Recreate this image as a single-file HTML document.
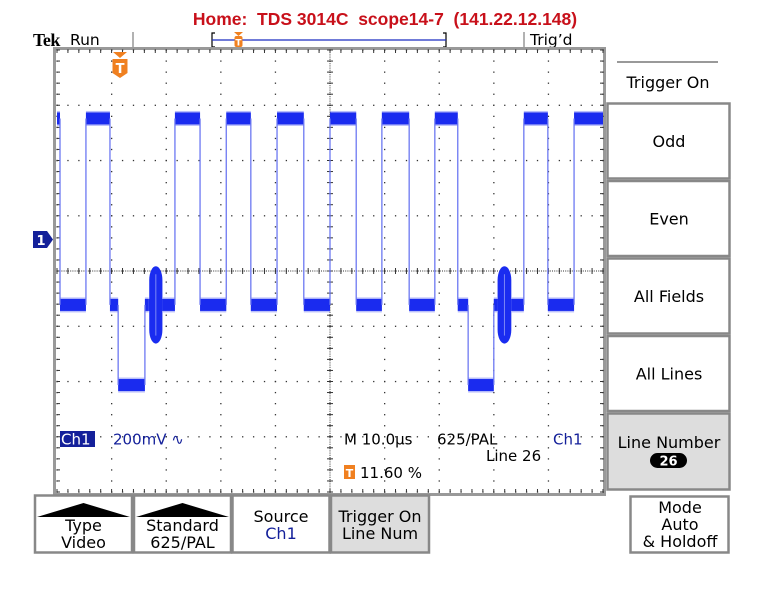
<!DOCTYPE html>
<html><head><meta charset="utf-8"><style>
html,body{margin:0;padding:0;background:#fff;width:760px;height:611px;overflow:hidden}
svg{display:block}
text{font-family:"DejaVu Sans","Liberation Sans",sans-serif;white-space:pre}
</style></head><body>
<svg id="scope" width="760" height="611" viewBox="0 0 760 611" xmlns="http://www.w3.org/2000/svg" xml:space="preserve">
<text x="385" y="25" text-anchor="middle" font-weight="bold" font-size="17.5" fill="#c8101a" style="font-family:'Liberation Sans',sans-serif">Home:  TDS 3014C  scope14-7  (141.22.12.148)</text>
<text x="33" y="46" font-size="18" font-weight="bold" style="font-family:'Liberation Serif',serif" letter-spacing="-0.5">Tek</text>
<text x="70" y="45" font-size="15.5">Run</text>
<line x1="133" y1="32" x2="133" y2="49" stroke="#999" stroke-width="1.5"/>
<g>
<path d="M215 33 H212 V47 H215" fill="none" stroke="#000" stroke-width="1.2"/>
<path d="M443 33 H446 V47 H443" fill="none" stroke="#000" stroke-width="1.2"/>
<line x1="212" y1="40" x2="446" y2="40" stroke="#1a2cc0" stroke-width="1.3"/>
<path d="M234 32 H243 L238.5 36 Z" fill="#f08020"/>
<rect x="234.5" y="36" width="8" height="11" rx="2" fill="#f08020"/>
<text x="238.5" y="45.5" text-anchor="middle" font-size="9" fill="#fff" font-weight="bold">T</text>
</g>
<line x1="524" y1="32" x2="524" y2="49" stroke="#999" stroke-width="1.5"/>
<text x="530" y="45" font-size="15.5">Trig’d</text>

<rect x="54.5" y="48.5" width="550" height="446" fill="#fff" stroke="#999" stroke-width="3"/>
<g id="grid"></g>
<g id="trace"></g>

<g>
<path d="M113 52 H127 L120 58 Z" fill="#f08020"/>
<path d="M112.5 59 H127.5 V73 L120 78 L112.5 73 Z" fill="#f08020"/>
<text x="120" y="73" text-anchor="middle" font-size="13" font-weight="bold" fill="#fff">T</text>
</g>
<g>
<path d="M33 231 H47 L53 239.5 L47 248 H33 Z" fill="#14209a"/>
<text x="41" y="245" text-anchor="middle" font-size="13" font-weight="bold" fill="#fff">1</text>
</g>

<rect x="60" y="431" width="35" height="16" fill="#14209a"/>
<text x="61" y="444.5" font-size="15" fill="#fff">Ch1</text>
<text x="113" y="444.5" font-size="15" fill="#14209a">200mV ∿</text>
<text x="344" y="444.5" font-size="15">M 10.0µs</text>
<text x="437" y="444.5" font-size="15">625/PAL</text>
<text x="553" y="444.5" font-size="15" fill="#14209a">Ch1</text>
<text x="486" y="461" font-size="15">Line 26</text>
<rect x="344" y="465" width="11" height="14" fill="#f08020"/>
<text x="349.5" y="477" text-anchor="middle" font-size="11" font-weight="bold" fill="#fff">T</text>
<text x="360" y="478" font-size="15">11.60 %</text>

<line x1="617" y1="62" x2="718" y2="62" stroke="#999" stroke-width="2"/>
<text x="668" y="88" text-anchor="middle" font-size="16">Trigger On</text>
<g><rect x="607.5" y="103.5" width="122" height="75" fill="#fff" stroke="#888" stroke-width="2.5"/><text x="669" y="147" text-anchor="middle" font-size="16">Odd</text></g>
<g><rect x="607.5" y="181" width="122" height="75" fill="#fff" stroke="#888" stroke-width="2.5"/><text x="669" y="224.5" text-anchor="middle" font-size="16">Even</text></g>
<g><rect x="607.5" y="258.5" width="122" height="75" fill="#fff" stroke="#888" stroke-width="2.5"/><text x="669" y="302" text-anchor="middle" font-size="16">All Fields</text></g>
<g><rect x="607.5" y="336" width="122" height="75" fill="#fff" stroke="#888" stroke-width="2.5"/><text x="669" y="379.5" text-anchor="middle" font-size="16">All Lines</text></g>
<g><rect x="607.5" y="413.5" width="122" height="76" fill="#ddd" stroke="#888" stroke-width="2.5"/><text x="669" y="448" text-anchor="middle" font-size="16">Line Number</text>
<rect x="650" y="453" width="37" height="15" rx="7.5" fill="#000"/><text x="668.5" y="465.5" text-anchor="middle" font-size="13" font-weight="bold" fill="#fff">26</text></g>

<g><rect x="35" y="495.5" width="97" height="57" fill="#fff" stroke="#888" stroke-width="2.5"/><path d="M37 517 L83.5 503 L130 517 Z" fill="#000"/><text x="83.5" y="531" text-anchor="middle" font-size="16">Type</text><text x="83.5" y="548" text-anchor="middle" font-size="16">Video</text></g>
<g><rect x="134" y="495.5" width="97" height="57" fill="#fff" stroke="#888" stroke-width="2.5"/><path d="M136 517 L182.5 503 L229 517 Z" fill="#000"/><text x="182.5" y="531" text-anchor="middle" font-size="16">Standard</text><text x="182.5" y="548" text-anchor="middle" font-size="16">625/PAL</text></g>
<g><rect x="232.5" y="495.5" width="97" height="57" fill="#fff" stroke="#888" stroke-width="2.5"/><text x="281" y="522" text-anchor="middle" font-size="16">Source</text><text x="281" y="539" text-anchor="middle" font-size="16" fill="#14209a">Ch1</text></g>
<g><rect x="331" y="495.5" width="98" height="57" fill="#ddd" stroke="#888" stroke-width="2.5"/><text x="380" y="522" text-anchor="middle" font-size="16">Trigger On</text><text x="380" y="539" text-anchor="middle" font-size="16">Line Num</text></g>
<g><rect x="630.5" y="496.5" width="98" height="56" fill="#fff" stroke="#888" stroke-width="2.5"/><text x="680" y="513" text-anchor="middle" font-size="16">Mode</text><text x="680" y="530" text-anchor="middle" font-size="16">Auto</text><text x="680" y="547" text-anchor="middle" font-size="16">&amp; Holdoff</text></g>
</svg>
<script>
// Trace data: segment boundaries (µs), levels (mV) and burst flags
const segStart = [0, 0.55, 5.3, 9.7, 11.2, 16.1, 16.8, 19.4, 21.6, 26.2, 31.0, 35.5, 40.3, 45.2, 50.0, 54.8, 59.5, 64.5, 69.2, 73.4, 75.3, 80.0, 80.6, 83.3, 85.5, 89.9, 94.7];
const segEnd   = [0.55, 5.3, 9.7, 11.2, 16.1, 16.8, 19.4, 21.6, 26.2, 31.0, 35.5, 40.3, 45.2, 50.0, 54.8, 59.5, 64.5, 69.2, 73.4, 75.3, 80.0, 80.6, 83.3, 85.5, 89.9, 94.7, 100];
const segLevel = [440, -235, 440, -235, -525, -235, -235, -235, 440, -235, 440, -235, 440, -235, 440, -235, 440, -235, 440, -235, -525, -235, -235, -235, 440, -235, 440];
const segBurst = [0, 0, 0, 0, 0, 0, 1, 0, 0, 0, 0, 0, 0, 0, 0, 0, 0, 0, 0, 0, 0, 0, 1, 0, 0, 0, 0];
const burstAmp = 140; // mV peak
const timeDivs = 10, voltDivs = 8;

const NS = 'http://www.w3.org/2000/svg';
const X0 = 57, X1 = 603, Y0 = 50, Y1 = 492;
const groundY = 240, mvPerDiv = 200, pxPerDiv = (Y1 - Y0) / voltDivs;
const xOf = t => X0 + (t / 100) * (X1 - X0);
const yOf = mv => groundY - mv / mvPerDiv * pxPerDiv;
function mk(tag, attrs, parent) { const e = document.createElementNS(NS, tag); for (const k in attrs) e.setAttribute(k, attrs[k]); parent.appendChild(e); return e; }

// graticule
const grid = document.getElementById('grid');
const dx = (X1 - X0) / timeDivs, dy = pxPerDiv;
for (let i = 0; i <= timeDivs; i++) {
  const x = X0 + i * dx;
  for (let j = 0; j <= voltDivs * 5; j++) {
    const y = Y0 + j * dy / 5;
    const d = mk('rect', {x: x - 0.6, y: y - 0.6, width: 1.3, height: 1.3, fill: '#333'}, grid);
    
    
  }
}
for (let j = 0; j <= voltDivs; j++) {
  const y = Y0 + j * dy;
  for (let i = 0; i <= timeDivs * 5; i++) {
    const x = X0 + i * dx / 5;
    mk('rect', {x: x - 0.6, y: y - 0.6, width: 1.3, height: 1.3, fill: '#333'}, grid);
  }
}
const cx = X0 + 5 * dx, cy = Y0 + 4 * dy;
for (let x = X0; x <= X1; x += 2.2) mk('rect', {x: x, y: cy - 0.5, width: 1, height: 1, fill: '#333'}, grid);
for (let y = Y0; y <= Y1; y += 2.2) mk('rect', {x: cx - 0.5, y: y, width: 1, height: 1, fill: '#333'}, grid);
for (let i = 0; i <= timeDivs * 5; i++) { const x = X0 + i * dx / 5; mk('line', {x1: x, y1: cy - 3, x2: x, y2: cy + 3, stroke: '#333', 'stroke-width': 1}, grid); }
for (let j = 0; j <= voltDivs * 5; j++) { const y = Y0 + j * dy / 5; mk('line', {x1: cx - 3, y1: y, x2: cx + 3, y2: y, stroke: '#333', 'stroke-width': 1}, grid);
  mk('line', {x1: X0, y1: y, x2: X0 + 3, y2: y, stroke: '#333', 'stroke-width': 1}, grid);
  mk('line', {x1: X1 - 3, y1: y, x2: X1, y2: y, stroke: '#333', 'stroke-width': 1}, grid); }
for (let i = 0; i <= timeDivs * 5; i++) { const x = X0 + i * dx / 5;
  mk('line', {x1: x, y1: Y0, x2: x, y2: Y0 + 3, stroke: '#333', 'stroke-width': 1}, grid);
  mk('line', {x1: x, y1: Y1 - 3, x2: x, y2: Y1, stroke: '#333', 'stroke-width': 1}, grid); }

// trace
const tr = document.getElementById('trace');
const band = 12;
for (let i = 0; i < segStart.length; i++) {
  const xa = xOf(segStart[i]), xb = xOf(segEnd[i]), y = yOf(segLevel[i]);
  if (segBurst[i]) {
    const h = burstAmp / mvPerDiv * pxPerDiv;
    const bx = xa + 0.5, bw = xb - xa - 1;
    const p = mk('rect', {x: bx, y: y - h, width: bw, height: 2 * h, rx: bw / 2, ry: 14, fill: '#1a2cf0'}, tr);
    
    
    mk('rect', {x: xa, y: y - band / 2, width: xb - xa, height: band, fill: '#1a2cf0'}, tr);
    mk('line', {x1: (xa + xb) / 2, y1: y - h + 8, x2: (xa + xb) / 2, y2: y + h - 8, stroke: '#7d88f5', 'stroke-width': 1}, tr);
  } else {
    const r = mk('rect', {x: xa, y: y - band / 2, width: Math.max(0, xb - xa), height: band, fill: '#1a2cf0'}, tr);
    
    
    mk('rect', {x: xa, y: y - band / 2 - 1.5, width: Math.max(0, xb - xa), height: band + 3, fill: '#1a2cf0', opacity: 0.3}, tr);
  }
  if (i > 0) {
    const yp = yOf(segLevel[i - 1]);
    if (Math.abs(yp - y) > 1) mk('line', {x1: xa, y1: yp, x2: xa, y2: y, stroke: '#6c78f2', 'stroke-width': 1.3}, tr);
  }
}
</script>
</body></html>
